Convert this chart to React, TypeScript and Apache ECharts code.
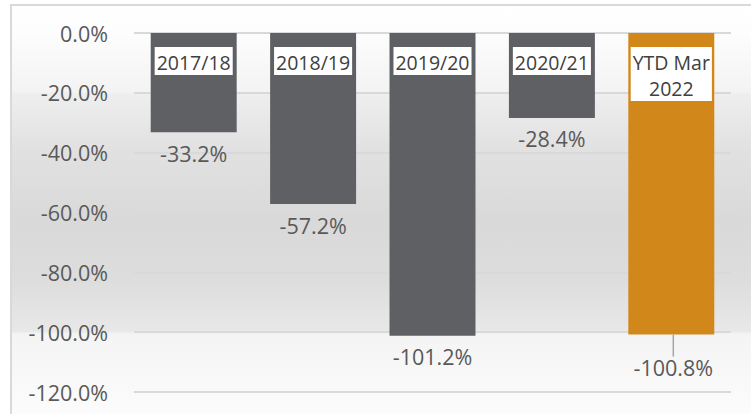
import React, { useEffect, useRef } from "react";
import * as echarts from "echarts";

const categories = ["2017/18", "2018/19", "2019/20", "2020/21", "YTD Mar\n2022"];
const values = [-33.2, -57.2, -101.2, -28.4, -100.8];
const barColors = ["#5f6064", "#5f6064", "#5f6064", "#5f6064", "#d2871a"];

const FONT = "'Open Sans', 'Noto Sans', sans-serif";

export default function App() {
  const ref = useRef<HTMLDivElement>(null);
  useEffect(() => {
    if (!ref.current) return;
    const chart = echarts.init(ref.current, undefined, { renderer: "svg" });
    const H = 420;
    const off = (y: number) => Math.min(1, Math.max(0, (y - 5) / H));
    chart.setOption({
      animation: false,
      graphic: [
        {
          type: "rect",
          z: -100,
          silent: true,
          shape: { x: 11, y: 5, width: 800, height: H },
          style: {
            stroke: "#d9d9d9",
            lineWidth: 2,
            fill: new echarts.graphic.LinearGradient(0, 0, 0, 1, [
              { offset: 0, color: "#ffffff" },
              { offset: off(33), color: "#fdfdfd" },
              { offset: off(92), color: "#f3f3f3" },
              { offset: off(94), color: "#eeeeee" },
              { offset: off(150), color: "#e1e1e1" },
              { offset: off(220), color: "#d9d9d9" },
              { offset: off(280), color: "#dddddd" },
              { offset: off(331), color: "#e8e8e8" },
              { offset: off(334), color: "#f4f4f4" },
              { offset: 1, color: "#fdfdfd" },
            ]),
          },
        },
      ],
      grid: { left: 134, right: 20, top: 33, bottom: 22, containLabel: false },
      xAxis: {
        type: "category",
        data: categories,
        axisLine: { show: false },
        axisTick: { show: false },
        axisLabel: { show: false },
        splitLine: { show: false },
      },
      yAxis: {
        type: "value",
        min: -120,
        max: 0,
        interval: 20,
        axisLine: { show: false },
        axisTick: { show: false },
        splitLine: { show: true, lineStyle: { color: "#d9d9d9", width: 2 } },
        axisLabel: {
          formatter: (v: number) => v.toFixed(1) + "%",
          color: "#595959",
          fontSize: 21.5,
          fontFamily: FONT,
          margin: 26,
        },
      },
      series: [
        {
          type: "bar",
          barCategoryGap: "28%",
          data: values.map((v, i) => ({
            value: v,
            itemStyle: { color: barColors[i] },
            labelLine:
              i === 4
                ? { show: true, lineStyle: { color: "#a6a6a6", width: 1.5 } }
                : { show: false },
          })),
          label: {
            show: true,
            position: "bottom",
            distance: 10,
            formatter: (p: any) => p.value.toFixed(1) + "%",
            color: "#595959",
            fontSize: 21.5,
            fontFamily: FONT,
          },
          labelLayout: (p: any) => (p.dataIndex === 4 ? { dy: 12, dx: 2 } : {}),
          z: 2,
        },
        {
          type: "bar",
          barGap: "-100%",
          barCategoryGap: "28%",
          data: values,
          itemStyle: { color: "rgba(0,0,0,0)" },
          silent: true,
          label: {
            show: true,
            position: "insideTop",
            distance: 14,
            formatter: (p: any) => categories[p.dataIndex],
            color: "#404040",
            backgroundColor: "#ffffff",
            fontSize: 19.5,
            lineHeight: 26,
            padding: [2, 2, 0, 2],
            fontFamily: FONT,
          },
          z: 3,
        },
      ],
    });
    return () => chart.dispose();
  }, []);
  return <div ref={ref} style={{ width: 751, height: 414, position: "absolute", left: 0, top: 0 }} />;
}
